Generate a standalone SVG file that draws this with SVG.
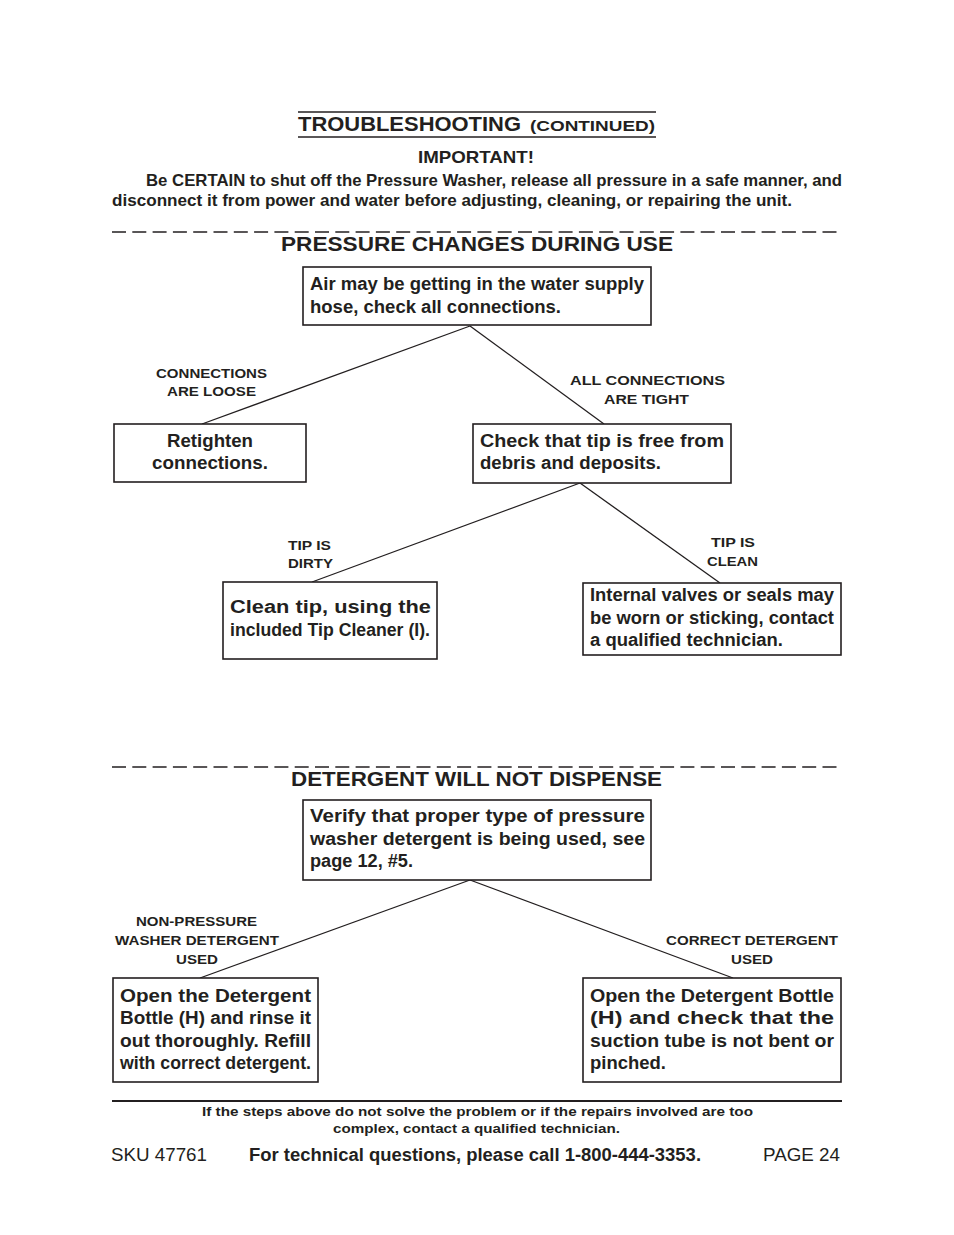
<svg xmlns="http://www.w3.org/2000/svg" width="954" height="1235" viewBox="0 0 954 1235">
<style>
text{font-family:"Liberation Sans",Arial,sans-serif;font-weight:bold;fill:#231f20}
.b{font-size:18px}
.l{font-size:13.5px}
.h{font-size:20.5px}
.r{font-weight:normal}
.box{fill:#fff;stroke:#231f20;stroke-width:1.6}
.con{stroke:#231f20;stroke-width:1.3;fill:none}
.dash{stroke:#231f20;stroke-width:1.6;stroke-dasharray:14 6.3}
</style>
<rect width="954" height="1235" fill="#fff"/>
<g id="header">
<line x1="298" y1="112" x2="656" y2="112" stroke="#231f20" stroke-width="1.6"/>
<text x="298" y="131" font-size="20" textLength="223" lengthAdjust="spacingAndGlyphs">TROUBLESHOOTING</text>
<text x="530" y="131" font-size="15.5" textLength="125" lengthAdjust="spacingAndGlyphs">(CONTINUED)</text>
<line x1="298" y1="137" x2="656" y2="137" stroke="#231f20" stroke-width="1.6"/>
<text x="418" y="163" font-size="16.5" textLength="116" lengthAdjust="spacingAndGlyphs">IMPORTANT!</text>
<text x="146" y="186" font-size="16.5" textLength="696" lengthAdjust="spacingAndGlyphs">Be CERTAIN to shut off the Pressure Washer, release all pressure in a safe manner, and</text>
<text x="112" y="206" font-size="16.5" textLength="680" lengthAdjust="spacingAndGlyphs">disconnect it from power and water before adjusting, cleaning, or repairing the unit.</text>
<line x1="112" y1="232" x2="842" y2="232" class="dash"/>
<text x="281" y="251" class="h" textLength="392" lengthAdjust="spacingAndGlyphs">PRESSURE CHANGES DURING USE</text>
<line x1="112" y1="767" x2="842" y2="767" class="dash"/>
<text x="291" y="786" class="h" textLength="371" lengthAdjust="spacingAndGlyphs">DETERGENT WILL NOT DISPENSE</text>
</g>
<g id="connectors">
<line x1="470" y1="326" x2="202" y2="424" class="con"/>
<line x1="470" y1="326" x2="604" y2="424" class="con"/>
<line x1="580" y1="483" x2="312" y2="582" class="con"/>
<line x1="580" y1="483" x2="720" y2="583" class="con"/>
<line x1="470" y1="880" x2="200" y2="978" class="con"/>
<line x1="470" y1="880" x2="733" y2="978" class="con"/>
</g>
<g id="edge-labels">
<text x="156" y="378" class="l" textLength="111" lengthAdjust="spacingAndGlyphs">CONNECTIONS</text>
<text x="167" y="396" class="l" textLength="89" lengthAdjust="spacingAndGlyphs">ARE LOOSE</text>
<text x="570" y="385" class="l" textLength="155" lengthAdjust="spacingAndGlyphs">ALL CONNECTIONS</text>
<text x="604" y="404" class="l" textLength="85" lengthAdjust="spacingAndGlyphs">ARE TIGHT</text>
<text x="288" y="550" class="l" textLength="43" lengthAdjust="spacingAndGlyphs">TIP IS</text>
<text x="288" y="568" class="l" textLength="45" lengthAdjust="spacingAndGlyphs">DIRTY</text>
<text x="711" y="547" class="l" textLength="44" lengthAdjust="spacingAndGlyphs">TIP IS</text>
<text x="707" y="566" class="l" textLength="51" lengthAdjust="spacingAndGlyphs">CLEAN</text>
<text x="136" y="926" class="l" textLength="121" lengthAdjust="spacingAndGlyphs">NON-PRESSURE</text>
<text x="115" y="945" class="l" textLength="164" lengthAdjust="spacingAndGlyphs">WASHER DETERGENT</text>
<text x="176" y="964" class="l" textLength="42" lengthAdjust="spacingAndGlyphs">USED</text>
<text x="666" y="945" class="l" textLength="172" lengthAdjust="spacingAndGlyphs">CORRECT DETERGENT</text>
<text x="731" y="964" class="l" textLength="42" lengthAdjust="spacingAndGlyphs">USED</text>
</g>
<g id="node-air">
<rect x="303" y="267" width="348" height="58" class="box"/>
<text x="310" y="290" class="b" textLength="334" lengthAdjust="spacingAndGlyphs">Air may be getting in the water supply</text>
<text x="310" y="313" class="b" textLength="251" lengthAdjust="spacingAndGlyphs">hose, check all connections.</text>
</g>
<g id="node-retighten">
<rect x="114" y="424" width="192" height="58" class="box"/>
<text x="167" y="447" class="b" textLength="86" lengthAdjust="spacingAndGlyphs">Retighten</text>
<text x="152" y="469" class="b" textLength="116" lengthAdjust="spacingAndGlyphs">connections.</text>
</g>
<g id="node-check">
<rect x="473" y="424" width="258" height="59" class="box"/>
<text x="480" y="447" class="b" textLength="244" lengthAdjust="spacingAndGlyphs">Check that tip is free from</text>
<text x="480" y="469" class="b" textLength="181" lengthAdjust="spacingAndGlyphs">debris and deposits.</text>
</g>
<g id="node-clean">
<rect x="223" y="582" width="214" height="77" class="box"/>
<text x="230" y="613" class="b" textLength="201" lengthAdjust="spacingAndGlyphs">Clean tip, using the</text>
<text x="230" y="636" class="b" textLength="200" lengthAdjust="spacingAndGlyphs">included Tip Cleaner (I).</text>
</g>
<g id="node-internal">
<rect x="583" y="583" width="258" height="72" class="box"/>
<text x="590" y="601" class="b" textLength="244" lengthAdjust="spacingAndGlyphs">Internal valves or seals may</text>
<text x="590" y="624" class="b" textLength="244" lengthAdjust="spacingAndGlyphs">be worn or sticking, contact</text>
<text x="590" y="646" class="b" textLength="193" lengthAdjust="spacingAndGlyphs">a qualified technician.</text>
</g>
<g id="node-verify">
<rect x="303" y="800" width="348" height="80" class="box"/>
<text x="310" y="822" class="b" textLength="335" lengthAdjust="spacingAndGlyphs">Verify that proper type of pressure</text>
<text x="310" y="845" class="b" textLength="335" lengthAdjust="spacingAndGlyphs">washer detergent is being used, see</text>
<text x="310" y="867" class="b" textLength="103" lengthAdjust="spacingAndGlyphs">page 12, #5.</text>
</g>
<g id="node-rinse">
<rect x="113" y="978" width="205" height="104" class="box"/>
<text x="120" y="1002" class="b" textLength="191" lengthAdjust="spacingAndGlyphs">Open the Detergent</text>
<text x="120" y="1024" class="b" textLength="191" lengthAdjust="spacingAndGlyphs">Bottle (H) and rinse it</text>
<text x="120" y="1047" class="b" textLength="191" lengthAdjust="spacingAndGlyphs">out thoroughly.  Refill</text>
<text x="120" y="1069" class="b" textLength="191" lengthAdjust="spacingAndGlyphs">with correct detergent.</text>
</g>
<g id="node-tube">
<rect x="583" y="978" width="258" height="104" class="box"/>
<text x="590" y="1002" class="b" textLength="244" lengthAdjust="spacingAndGlyphs">Open the Detergent Bottle</text>
<text x="590" y="1024" class="b" textLength="244" lengthAdjust="spacingAndGlyphs">(H) and check that the</text>
<text x="590" y="1047" class="b" textLength="244" lengthAdjust="spacingAndGlyphs">suction tube is not bent or</text>
<text x="590" y="1069" class="b" textLength="76" lengthAdjust="spacingAndGlyphs">pinched.</text>
</g>
<g id="footer">
<line x1="112" y1="1101" x2="842" y2="1101" stroke="#231f20" stroke-width="2"/>
<text x="202" y="1116" class="l" textLength="551" lengthAdjust="spacingAndGlyphs">If the steps above do not solve the problem or if the repairs involved are too</text>
<text x="333" y="1133" class="l" textLength="287" lengthAdjust="spacingAndGlyphs">complex, contact a qualified technician.</text>
<text x="111" y="1161" font-size="18" class="r" textLength="96" lengthAdjust="spacingAndGlyphs">SKU 47761</text>
<text x="249" y="1161" font-size="18" textLength="452" lengthAdjust="spacingAndGlyphs">For technical questions, please call 1-800-444-3353.</text>
<text x="763" y="1161" font-size="18" class="r" textLength="77" lengthAdjust="spacingAndGlyphs">PAGE 24</text>
</g>
</svg>
